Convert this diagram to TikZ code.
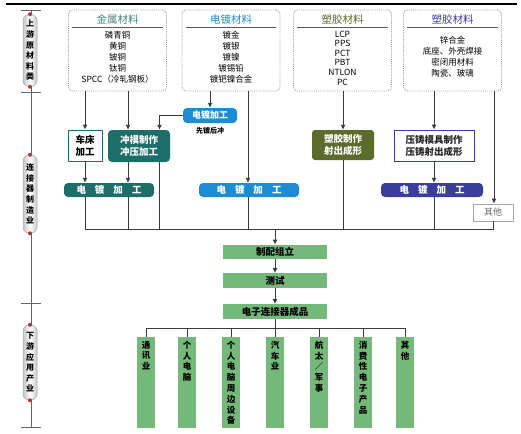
\documentclass[tikz,border=0pt]{standalone}
\usepackage{fontspec}
\setmainfont{Noto Sans CJK SC}
\usetikzlibrary{arrows.meta}
\definecolor{cteal}{HTML}{1D6E68}
\definecolor{cblue}{HTML}{1E8CD3}
\definecolor{colive}{HTML}{5A6B2B}
\definecolor{cpurple}{HTML}{3C3C9C}
\definecolor{cgreen}{HTML}{74B87A}
\definecolor{cline}{HTML}{3A3A3A}
\begin{document}
\begin{tikzpicture}[x=1pt,y=-1pt,
  matbox/.style={draw=gray!75, densely dotted, line width=0.9pt, rounded corners=4pt, minimum width=98, minimum height=81, inner sep=0},
  mattitle/.style={font=\fontsize{10.5}{11}\selectfont, inner sep=0},
  matitems/.style={font=\fontsize{8.5}{11}\selectfont, align=center, inner sep=0},
  ln/.style={draw=cline, line width=0.9pt},
  arr/.style={ln, -{Latex[length=5pt,width=5pt]}},
  filled/.style={rounded corners=4pt, text=white, font=\bfseries\fontsize{9.5}{12}\selectfont, align=center, inner sep=0},
  dbar/.style={filled, minimum height=14, font=\bfseries\fontsize{9.5}{10}\selectfont},
  gbox/.style={fill=cgreen, minimum width=104, minimum height=14.5, inner sep=0, font=\bfseries\fontsize{9.5}{10}\selectfont},
  gbar/.style={fill=cgreen, minimum width=18, minimum height=91, inner sep=0},
  vtext/.style={font=\bfseries\fontsize{8.5}{10.8}\selectfont, align=center, inner sep=0, anchor=north},
  capsule/.style={draw=gray!70, line width=0.5pt, rounded corners=6pt, minimum width=14, left color=gray!45, right color=gray!45, middle color=white, inner sep=0, font=\bfseries\fontsize{8}{10.6}\selectfont, align=center},
  rdot/.style={circle, fill=red!65!black!80, inner sep=0, minimum size=4}
]
\useasboundingbox (0,0) rectangle (521,433);
% top rule
\draw[line width=1.1pt] (6,4) -- (517,4);
% left axis
\draw[gray!80!black, line width=0.8pt] (31,10) -- (31,427);
\foreach \yy in {10,92,303,427} \draw[gray!80!black, line width=0.8pt] (21,\yy) -- (41,\yy);
\node[capsule, minimum height=72] (cap1) at (30,50.5) {上\\游\\原\\材\\料\\类};
\node[capsule, minimum height=78] (cap2) at (30,194) {连\\接\\器\\制\\造\\业};
\node[capsule, minimum height=75] (cap3) at (30,362.5) {下\\游\\应\\用\\产\\业};
\foreach \c in {cap1,cap2,cap3} {\node[rdot] at (\c.north) {}; \node[rdot] at (\c.south) {};}

% material boxes
\node[matbox] (metal) at (117.5,50.5) {};
\node[matbox] (plate) at (231,50.5) {};
\node[matbox] (plast) at (342.5,50.5) {};
\node[matbox] (zinc) at (452.5,50.5) {};
\node[mattitle, text=cteal!85] (t1) at (117.5,19.5) {金属材料};
\node[mattitle, text=cblue] (t2) at (231,19.5) {电镀材料};
\node[mattitle, text=colive] (t3) at (342.5,19.5) {塑胶材料};
\node[mattitle, text=cpurple] (t4) at (452.5,19.5) {塑胶材料};
\draw[gray!70!black, line width=0.9pt] (72,27.5) -- (163,27.5);
\draw[gray!70!black, line width=0.9pt] (186,27.5) -- (276,27.5);
\draw[gray!70!black, line width=0.9pt] (297,27.5) -- (388,27.5);
\draw[gray!70!black, line width=0.9pt] (407,27.5) -- (498,27.5);
\node[matitems, anchor=north] (i1) at (117.5,31.5) {磷青铜\\黄铜\\铍铜\\钛铜\\SPCC（冷轧钢板）};
\node[matitems, anchor=north] (i2) at (231,31.5) {镀金\\镀银\\镀镍\\镀锡铅\\镀钯镍合金};
\node[matitems, anchor=north, font=\fontsize{8.5}{9.6}\selectfont] (i3) at (342.5,30.5) {LCP\\PPS\\PCT\\PBT\\NTLON\\PC};
\node[matitems, anchor=north] (i4) at (452.5,36.5) {锌合金\\底座、外壳焊接\\密闭用材料\\陶瓷、玻璃};

% second level
\node[draw=cteal, line width=0.9pt, fill=white, minimum width=34, minimum height=31, inner sep=0, align=center, font=\bfseries\fontsize{9.5}{12}\selectfont] (chuang) at (85,145.5) {车床\\加工};
\node[filled, fill=cteal, minimum width=62, minimum height=32] (chongmo) at (139,146) {冲模制作\\冲压加工};
\node[filled, fill=cblue, minimum width=54, minimum height=15, font=\bfseries\fontsize{9}{10}\selectfont] (ddsmall) at (210,115.5) {电镀加工};
\node[inner sep=0, font=\bfseries\fontsize{7}{8}\selectfont] (xiandu) at (210,131) {先镀后冲};
\node[filled, fill=colive, minimum width=62, minimum height=30, rounded corners=3pt] (suji) at (343,145) {塑胶制作\\射出成形};
\node[draw=cpurple, line width=0.9pt, fill=white, minimum width=80, minimum height=31, inner sep=0, align=center, font=\bfseries\fontsize{9.5}{12}\selectfont, text=black!85] (yazhu) at (434,145.5) {压铸模具制作\\压铸射出成形};

% third level
\node[dbar, fill=cteal, minimum width=90] (ddteal) at (109,190) {电\hspace{9pt}镀\hspace{9pt}加\hspace{9pt}工};
\node[dbar, fill=cblue, minimum width=100] (ddblue) at (249,190) {电\hspace{9pt}镀\hspace{9pt}加\hspace{9pt}工};
\node[dbar, fill=cpurple, minimum width=102] (ddpurple) at (432,190) {电\hspace{9pt}镀\hspace{9pt}加\hspace{9pt}工};
\node[draw=gray!70, line width=0.9pt, minimum width=40, minimum height=17, inner sep=0, text=gray!80!black, font=\fontsize{9}{10}\selectfont] (qita) at (493,212.5) {其他};

% arrows level 1 -> 2
\draw[arr] (metal.south -| chuang.north) -- (chuang.north);
\draw[arr] ([xshift=-11]chongmo.north |- metal.south) -- ([xshift=-11]chongmo.north);
\draw[arr] (plate.south -| ddsmall.north) -- (ddsmall.north);
\draw[arr] (ddsmall.west) -| ([xshift=20.5]chongmo.north);
\draw[arr] (plast.south -| suji.north) -- (suji.north);
\draw[arr] (zinc.south -| yazhu.north) -- (yazhu.north);
\draw[arr] ([xshift=-1]ddblue.north |- plate.south) -- ([xshift=-1]ddblue.north);
\draw[arr] ([xshift=41.5]zinc.south) -- ([xshift=41.5]zinc.south |- qita.north);

% level 2 -> 3
\draw[arr] (chuang.south) -- (chuang.south |- ddteal.north);
\draw[arr] ([xshift=-11]chongmo.south) -- ([xshift=-11]chongmo.south |- ddteal.north);
\draw[arr] (yazhu.south) -- (yazhu.south |- ddpurple.north);

% bus
\coordinate (busL) at (85,229);
\coordinate (busR) at (494,229);
\coordinate (busM) at (275,229);
\draw[ln] (busL) -- (busR);
\draw[ln] (ddteal.south -| chuang.south) -- (chuang.south |- busL);
\draw[ln] ([xshift=-11]chongmo.south |- ddteal.south) -- ([xshift=-11]chongmo.south |- busL);
\draw[ln] ([xshift=20.5]chongmo.south) -- ([xshift=20.5]chongmo.south |- busL);
\draw[ln] ([xshift=-1]ddblue.south) -- ([xshift=-1]ddblue.south |- busL);
\draw[ln] (suji.south) -- (suji.south |- busL);
\draw[ln] (ddpurple.south -| yazhu.south) -- (yazhu.south |- busL);
\draw[ln] (qita.south) -- (qita.south |- busR);

% green chain
\node[gbox] (zhipei) at (275,252) {制配组立};
\node[gbox] (ceshi) at (275,280.5) {测试};
\node[gbox] (chengpin) at (275,311.5) {电子连接器成品};
\draw[arr] (busM) -- (zhipei.north);
\draw[arr] (zhipei.south) -- (ceshi.north);
\draw[arr] (ceshi.south) -- (chengpin.north);

% downstream bars
\node[gbar] (b1) at (146,382.5) {};
\node[gbar] (b2) at (187,382.5) {};
\node[gbar] (b3) at (231,382.5) {};
\node[gbar] (b4) at (275,382.5) {};
\node[gbar] (b5) at (319,382.5) {};
\node[gbar] (b6) at (363,382.5) {};
\node[gbar] (b7) at (405,382.5) {};
\node[vtext] at ([yshift=-4]b1.north) {通\\讯\\业};
\node[vtext] at ([yshift=-4]b2.north) {个\\人\\电\\脑};
\node[vtext] at ([yshift=-4]b3.north) {个\\人\\电\\脑\\周\\边\\设\\备};
\node[vtext] at ([yshift=-4]b4.north) {汽\\车\\业};
\node[vtext] at ([yshift=-4]b5.north) {航\\太\\／\\军\\事};
\node[vtext] at ([yshift=-4]b6.north) {消\\费\\性\\电\\子\\产\\品};
\node[vtext] at ([yshift=-4]b7.north) {其\\他};
\coordinate (bb) at (275,328);
\draw[ln] (b1.north |- bb) -- (b7.north |- bb);
\draw[ln] (chengpin.south) -- (b4.north);
\foreach \b in {b1,b2,b3,b5,b6,b7} \draw[ln] (\b.north |- bb) -- (\b.north);
\end{tikzpicture}
\end{document}
